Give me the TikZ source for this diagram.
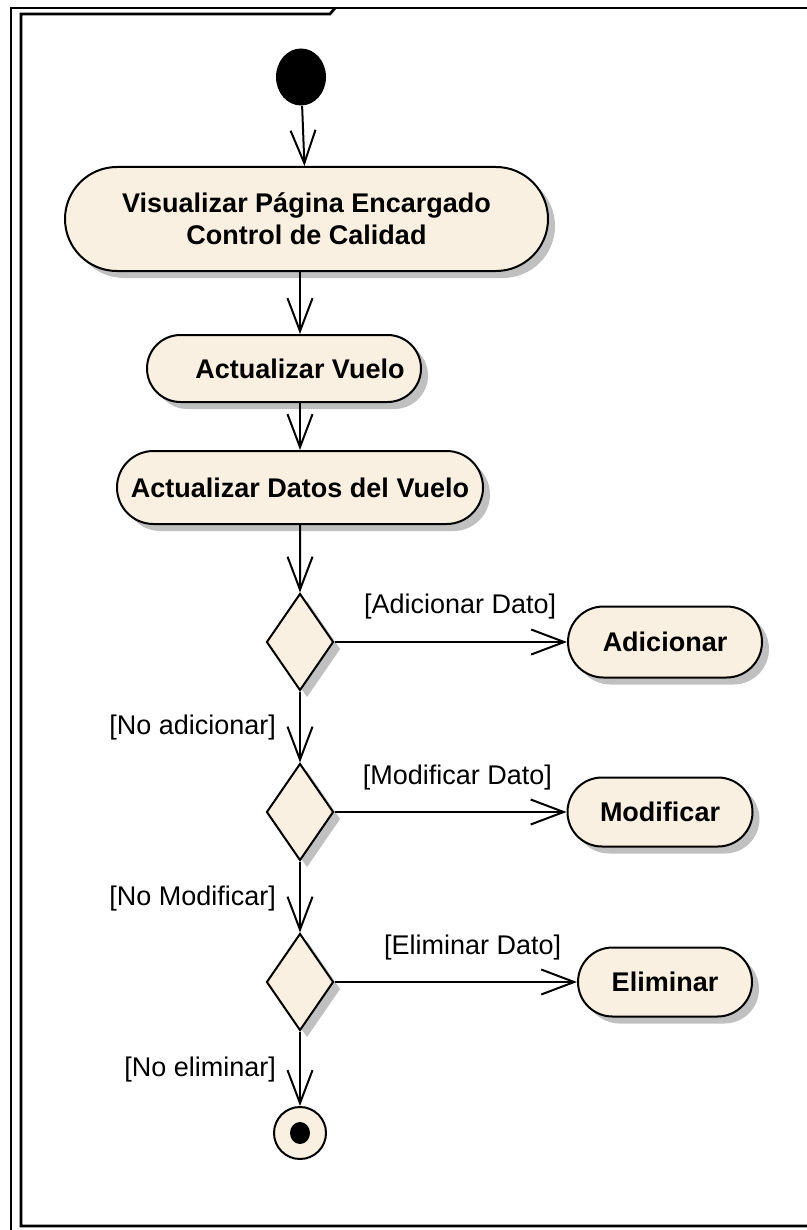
\documentclass[tikz,border=0pt]{standalone}
\usepackage{fontspec}
\setmainfont{Liberation Sans}
\usetikzlibrary{arrows.meta,positioning,shapes.geometric,shapes.misc,shadows}
\definecolor{actfill}{RGB}{250,240,226}
\definecolor{shadowgrey}{RGB}{192,192,192}
\tikzset{
  act/.style={rounded rectangle,draw=black,fill=actfill,line width=1pt,align=center,
              font=\fontsize{13.5}{16}\selectfont\bfseries,inner sep=0pt,
              drop shadow={shadow xshift=3.5pt,shadow yshift=-3.5pt,fill=shadowgrey,opacity=1}},
  dec/.style={diamond,draw=black,fill=actfill,line width=1pt,inner sep=0pt,
              minimum width=33.5pt,minimum height=48.5pt,
              drop shadow={shadow xshift=3.5pt,shadow yshift=-3.5pt,fill=shadowgrey,opacity=1}},
  flow/.style={-{Straight Barb[length=16.5pt,width=12.5pt,line width=1pt]},line width=1pt},
  guard/.style={font=\fontsize{13.5}{16}\selectfont,inner sep=0pt},
  frameline/.style={line width=1.4pt},
}
\begin{document}
\begin{tikzpicture}[x=0.5pt,y=-0.5pt]
  \useasboundingbox (0,0) rectangle (807,1230);

  % marco del diagrama
  \draw[frameline] (11,1230) -- (11,8) -- (807,8);
  \draw[frameline] (807,1226) -- (21,1226) -- (21,14) -- (330,14) -- (335,8);

  \node[ellipse,fill=black,minimum width=25pt,minimum height=28.5pt,inner sep=0pt] (start) at (301,77) {};

  \node[act,minimum width=241.5pt,minimum height=52pt] (visual) at (306.5,219)
    {Visualizar Página Encargado\\Control de Calidad};
  \node[act,minimum width=137pt,minimum height=33.5pt] (vuelo) at (284,368.5)
    {\hspace*{16pt}Actualizar Vuelo};
  \node[act,minimum width=183pt,minimum height=36.5pt] (datos) at (300,487.5) {Actualizar Datos del Vuelo};

  \node[dec] (dec1) at (300,642) {};
  \node[dec] (dec2) at (300,812) {};
  \node[dec] (dec3) at (300,982) {};

  \node[act,minimum width=97pt,minimum height=35.5pt] (adic)  at (665,642) {Adicionar};
  \node[act,minimum width=92.5pt,minimum height=34.5pt] (modif) at (660,812) {Modificar};
  \node[act,minimum width=87pt,minimum height=34.5pt] (elim)  at (665,982) {Eliminar};

  \node[circle,draw=black,line width=1pt,fill=actfill,minimum size=26pt,inner sep=0pt] (final) at (300,1133) {};
  \node[ellipse,fill=black,minimum width=10pt,minimum height=11pt,inner sep=0pt] (finaldot) at (final) {};

  \draw[flow] (start) -- (visual);
  \draw[flow] (visual.south -| dec1) -- (vuelo.north -| dec1);
  \draw[flow] (vuelo.south -| dec1) -- (datos.north -| dec1);
  \draw[flow] (datos) -- (dec1);

  \draw[flow] (dec1) -- node[guard,pos=.54,yshift=17.5pt]{[Adicionar Dato]} (adic);
  \draw[flow] (dec1) -- node[guard,pos=.51,left=11.5pt]{[No adicionar]} (dec2);
  \draw[flow] (dec2) -- node[guard,pos=.53,yshift=17pt]{[Modificar Dato]} (modif);
  \draw[flow] (dec2) -- node[guard,pos=.52,left=11.5pt]{[No Modificar]} (dec3);
  \draw[flow] (dec3) -- node[guard,pos=.57,yshift=17pt]{[Eliminar Dato]} (elim);
  \draw[flow] (dec3) -- node[guard,pos=.51,left=11.5pt]{[No eliminar]} (final);
\end{tikzpicture}
\end{document}
